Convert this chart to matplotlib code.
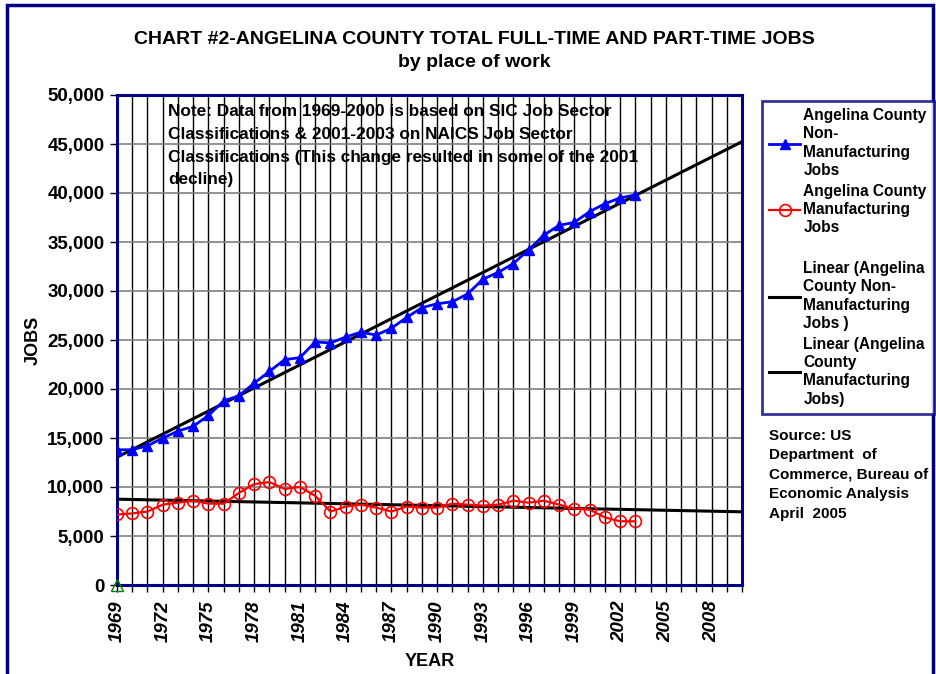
import numpy as np
import matplotlib
matplotlib.use('Agg')
import matplotlib.pyplot as plt
from matplotlib.lines import Line2D
from matplotlib.patches import Rectangle

# Angelina County jobs by place of work
years = list(range(1969, 2004))
non_manufacturing = [13800, 13800, 14200, 15000, 15700, 16200, 17300, 18800, 19300, 20600,
                     21800, 23000, 23200, 24800, 24700, 25300, 25800, 25500, 26200, 27300,
                     28300, 28700, 28900, 29700, 31200, 31900, 32800, 34200, 35700, 36700,
                     37000, 38100, 38900, 39500, 39800]
manufacturing = [7200, 7300, 7500, 8200, 8400, 8600, 8300, 8300, 9400, 10300,
                 10500, 9800, 10000, 9100, 7500, 8000, 8200, 7900, 7500, 8000,
                 7900, 7900, 8300, 8200, 8100, 8200, 8600, 8400, 8600, 8200,
                 7800, 7700, 6900, 6500, 6500]
extra_year = [1969]
extra_value = [0]
trend_end = 2010

y_ticks = list(range(0, 50001, 5000))
x_tick_years = list(range(1969, 2009, 3))

title = 'CHART #2-ANGELINA COUNTY TOTAL FULL-TIME AND PART-TIME JOBS\nby place of work'
note = ('Note: Data from 1969-2000 is based on SIC Job Sector\n'
        'Classifications & 2001-2003 on NAICS Job Sector\n'
        'Classifications (This change resulted in some of the 2001\n'
        'decline)')
source = 'Source: US\nDepartment  of\nCommerce, Bureau of\nEconomic Analysis\nApril  2005'

plt.rcParams['font.family'] = ['Liberation Sans', 'DejaVu Sans']
plt.rcParams['font.weight'] = 'bold'

W, H = 937, 674
fig = plt.figure(figsize=(W / 100, H / 100), dpi=100)
navy = '#000080'

# outer chart border
fig.patches.append(Rectangle((7 / W, -0.05), 926 / W, 1.05 - 5 / H, transform=fig.transFigure,
                             fill=False, edgecolor=navy, linewidth=2.5))

ax = fig.add_axes([117 / W, 1 - 585 / H, 625 / W, 490 / H])

# linear trend lines fitted to each series and extended forward
trend_x = np.array([1969, trend_end])
fit_non = np.polyfit(years, non_manufacturing, 1)
fit_man = np.polyfit(years, manufacturing, 1)

l1, = ax.plot(years, non_manufacturing, color='#0000FF', lw=2, marker='^', markersize=7.5,
              label='Angelina County\nNon-\nManufacturing\nJobs', zorder=4)
l2, = ax.plot(years, manufacturing, color='#FF0000', lw=1.6, marker='o', markersize=8.5,
              markerfacecolor='none', markeredgewidth=1.2,
              label='Angelina County\nManufacturing\nJobs', zorder=4)
l3, = ax.plot(trend_x, np.polyval(fit_non, trend_x), color='black', lw=2.2,
              label='Linear (Angelina\nCounty Non-\nManufacturing\nJobs )', zorder=3)
l4, = ax.plot(trend_x, np.polyval(fit_man, trend_x), color='black', lw=2.2,
              label='Linear (Angelina\nCounty\nManufacturing\nJobs)', zorder=3)
ax.plot(extra_year, extra_value, linestyle='none', marker='^', markersize=9,
        markerfacecolor='none', markeredgecolor='#008000', clip_on=False, zorder=5)
# the third series' legend entry was removed, leaving a blank slot
blank = Line2D([], [], linestyle='none', label=' ')

ax.set_xlim(1969, 2010)
ax.set_ylim(0, 50000)
ax.set_xticks(x_tick_years)
ax.set_xticks(range(1969, 2011), minor=True)
ax.set_xticklabels([str(y) for y in x_tick_years], rotation=90, fontsize=13.5,
                   fontstyle='italic', fontweight='bold')
ax.set_yticks(y_ticks)
ax.set_yticklabels([f'{v:,}' for v in y_ticks], fontsize=13.5, fontweight='bold')
ax.tick_params(axis='both', which='both', direction='out', length=5, width=1, color='black')
ax.tick_params(axis='x', pad=6)
ax.tick_params(axis='y', pad=4)

ax.grid(True, axis='x', which='both', color='black', lw=1)
ax.grid(True, axis='y', which='major', color='#808080', lw=1.2)
ax.set_axisbelow(True)
for s in ax.spines.values():
    s.set_color(navy)
    s.set_linewidth(2.2)

ax.set_xlabel('YEAR', fontsize=13, fontweight='bold', labelpad=8)
ax.set_ylabel('JOBS', fontsize=13, fontweight='bold', labelpad=4)

ax.text(168 / W, 1 - 104 / H, note, transform=fig.transFigure, fontsize=12.4,
        fontweight='bold', va='top', ha='left', linespacing=1.65)

fig.text(474 / W, 1 - 51 / H, title, ha='center', va='center', fontsize=14,
         fontweight='bold', linespacing=1.5)

leg = fig.legend(handles=[l1, l2, blank, l3, l4], loc='upper left',
                 bbox_to_anchor=(762 / W, 1 - 101 / H), bbox_transform=fig.transFigure,
                 fontsize=11.2, frameon=True, fancybox=False, handlelength=2.0,
                 handletextpad=0.2, borderpad=0.45, labelspacing=0.35, borderaxespad=0)
leg.get_frame().set_edgecolor(navy)
leg.get_frame().set_linewidth(2)
for t in leg.get_texts():
    t.set_fontweight('bold')
    t.set_linespacing(1.28)

fig.text(769 / W, 1 - 429 / H, source, ha='left', va='top', fontsize=11,
         fontweight='bold', linespacing=1.49)

fig.savefig('out.png', dpi=100)
